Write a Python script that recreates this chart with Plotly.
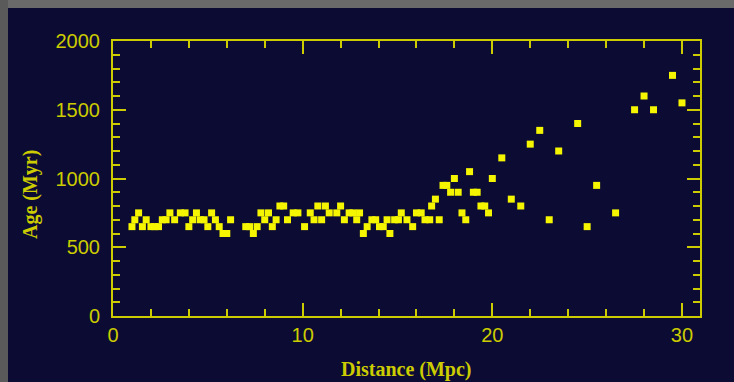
import plotly.graph_objects as go

distance = [1.0, 1.15, 1.35, 1.55, 1.75, 2.0, 2.2, 2.4, 2.6, 2.8, 3.0, 3.25, 3.55, 3.8,
            4.0, 4.2, 4.4, 4.6, 4.8, 5.0, 5.2, 5.4, 5.6, 5.8, 6.0, 6.2, 7.0, 7.2, 7.4,
            7.6, 7.8, 8.0, 8.2, 8.4, 8.6, 8.8, 9.0, 9.2, 9.5, 9.75, 10.1, 10.4, 10.6,
            10.8, 11.0, 11.2, 11.4, 11.8, 12.0, 12.2, 12.45, 12.65, 12.85, 13.0, 13.2,
            13.4, 13.65, 13.85, 14.05, 14.25, 14.45, 14.6, 14.85, 15.05, 15.2, 15.5,
            15.8, 16.0, 16.25, 16.45, 16.7, 16.8, 17.0, 17.2, 17.4, 17.6, 17.8, 18.0,
            18.2, 18.4, 18.6, 18.8, 19.0, 19.2, 19.4, 19.6, 19.8, 20.0, 20.5, 21.0,
            21.5, 22.0, 22.5, 23.0, 23.5, 24.5, 25.0, 25.5, 26.5, 27.5, 28.0, 28.5,
            29.5, 30.0]
age = [650, 700, 750, 650, 700, 650, 650, 650, 700, 700, 750, 700, 750, 750,
       650, 700, 750, 700, 700, 650, 750, 700, 650, 600, 600, 700, 650, 650, 600,
       650, 750, 700, 750, 650, 700, 800, 800, 700, 750, 750, 650, 750, 700,
       800, 700, 800, 750, 750, 800, 700, 750, 750, 700, 750, 600,
       650, 700, 700, 650, 650, 700, 600, 700, 700, 750, 700,
       650, 750, 750, 700, 700, 800, 850, 700, 950, 950, 900, 1000,
       900, 750, 700, 1050, 900, 900, 800, 800, 750, 1000, 1150, 850,
       800, 1250, 1350, 700, 1200, 1400, 650, 950, 750, 1500, 1600, 1500,
       1750, 1550]

x_title = "Distance (Mpc)"
y_title = "Age (Myr)"

navy = "#0b0b33"
yellow = "#cccc00"
W, H = 734, 382
ml, mr, mt, mb = 113, 34, 41, 66
pw, ph = W - ml - mr, H - mt - mb

fig = go.Figure()
fig.add_trace(go.Scatter(
    x=distance, y=age, mode="markers",
    marker=dict(symbol="square", size=7, color="#f5f500", line=dict(width=0)),
    hoverinfo="x+y",
))

def px_x(p):
    return (p - ml) / pw

def px_y(p):
    return 1 - (p - mt) / ph

# grey photographic border strips (top and left)
fig.add_shape(type="rect", xref="paper", yref="paper", layer="below",
              x0=px_x(0), x1=px_x(W), y0=px_y(8), y1=px_y(0),
              fillcolor="#6a6a6a", line=dict(width=0))
fig.add_shape(type="rect", xref="paper", yref="paper", layer="below",
              x0=px_x(0), x1=px_x(8), y0=px_y(H), y1=px_y(0),
              fillcolor="#5a5a5a", line=dict(width=0))

axis_common = dict(
    showgrid=False, zeroline=False, showline=True, linecolor=yellow, linewidth=2,
    mirror="ticks", ticks="inside", tickcolor=yellow, tickwidth=2, ticklen=13,
    tickfont=dict(family="Liberation Sans", size=20, color=yellow),
    automargin=False,
)
title_font = dict(family="Liberation Serif", size=20, color=yellow, weight="bold")

fig.update_xaxes(
    range=[0, 30.95], dtick=10, tick0=0, ticklabelstandoff=0,
    minor=dict(dtick=2, ticklen=7, tickcolor=yellow, tickwidth=2, ticks="inside"),
    **axis_common,
)
fig.update_yaxes(
    range=[0, 2000], dtick=500, tick0=0, ticklabelstandoff=7,
    minor=dict(dtick=100, ticklen=7, tickcolor=yellow, tickwidth=2, ticks="inside"),
    **axis_common,
)

fig.add_annotation(text=x_title, xref="paper", yref="paper",
                   x=px_x(407), y=px_y(369), xanchor="center", yanchor="middle",
                   showarrow=False, font=title_font)
fig.add_annotation(text=y_title, xref="paper", yref="paper",
                   x=px_x(30), y=px_y(195), xanchor="center", yanchor="middle",
                   textangle=-90, showarrow=False, font=title_font)

fig.update_layout(
    width=W, height=H,
    margin=dict(l=ml, r=mr, t=mt, b=mb, pad=0),
    paper_bgcolor=navy, plot_bgcolor=navy,
    showlegend=False,
)

fig.write_html("out.html")
